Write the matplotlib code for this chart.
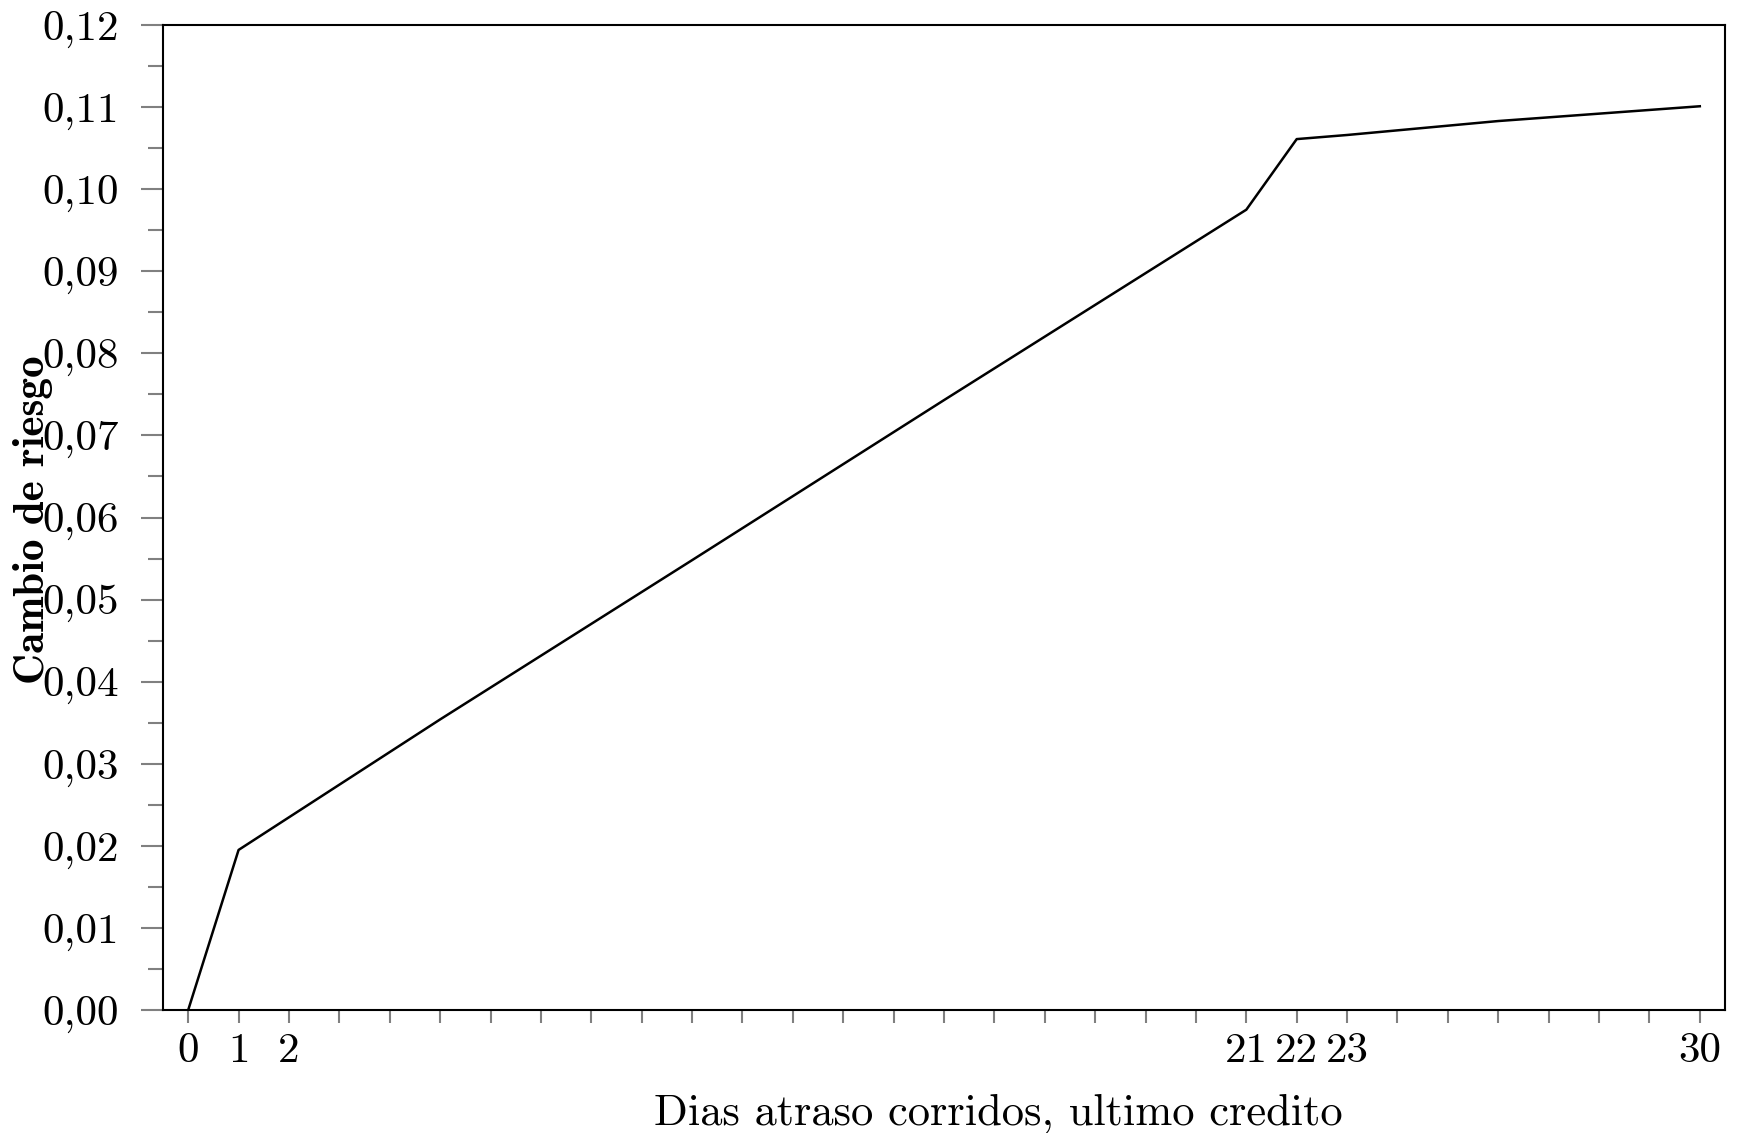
import matplotlib
matplotlib.use("Agg")
import matplotlib.pyplot as plt
from matplotlib.ticker import MultipleLocator, FixedLocator

# dias de atraso vs cambio de riesgo
dias = [0, 1, 5, 10, 15, 21, 22, 23, 26, 30]
riesgo = [0.0, 0.0195, 0.0354, 0.0548, 0.0743, 0.0975, 0.1061, 0.1066, 0.1083, 0.1101]

xtick_labels_at = [0, 1, 2, 21, 22, 23, 30]
yticks = [0.00, 0.01, 0.02, 0.03, 0.04, 0.05, 0.06, 0.07, 0.08, 0.09, 0.10, 0.11, 0.12]

plt.rcParams['font.family'] = 'serif'
plt.rcParams['font.serif'] = ['cmr10']
plt.rcParams['axes.formatter.use_mathtext'] = True

fig = plt.figure(figsize=(17.42, 11.33), dpi=100)
ax = fig.add_axes([163 / 1742, 1 - 1010 / 1133, (1725 - 163) / 1742, (1010 - 25) / 1133])

ax.plot(dias, riesgo, color='black', linewidth=1.8)

ax.set_xlim(-0.5, 30.5)
ax.set_ylim(0, 0.12)

ax.xaxis.set_major_locator(MultipleLocator(1))
ax.set_xticklabels([str(int(t)) if int(t) in xtick_labels_at else ''
                    for t in ax.get_xticks()])
ax.yaxis.set_major_locator(FixedLocator(yticks))
ax.set_yticklabels([f"{v:.2f}".replace('.', ',') for v in yticks])
ax.yaxis.set_minor_locator(MultipleLocator(0.005))

ax.tick_params(axis='x', which='major', length=9.5, width=1.5, color='#808080',
               labelsize=31, pad=7)
ax.tick_params(axis='y', which='major', length=16, width=1.5, color='#808080',
               labelsize=31, pad=16)
ax.tick_params(axis='y', which='minor', length=11, width=1.5, color='#808080')

for s in ax.spines.values():
    s.set_linewidth(1.5)
    s.set_color('black')

fig.text(998 / 1742, 1 - 1124 / 1133, 'Dias atraso corridos, ultimo credito',
         ha='center', va='baseline', fontsize=32)
fig.text(33 / 1742, 1 - 520 / 1133, 'Cambio de riesgo', rotation=90,
         ha='center', va='center', fontsize=31, family='cmb10')

fig.savefig('out.png', dpi=100)
